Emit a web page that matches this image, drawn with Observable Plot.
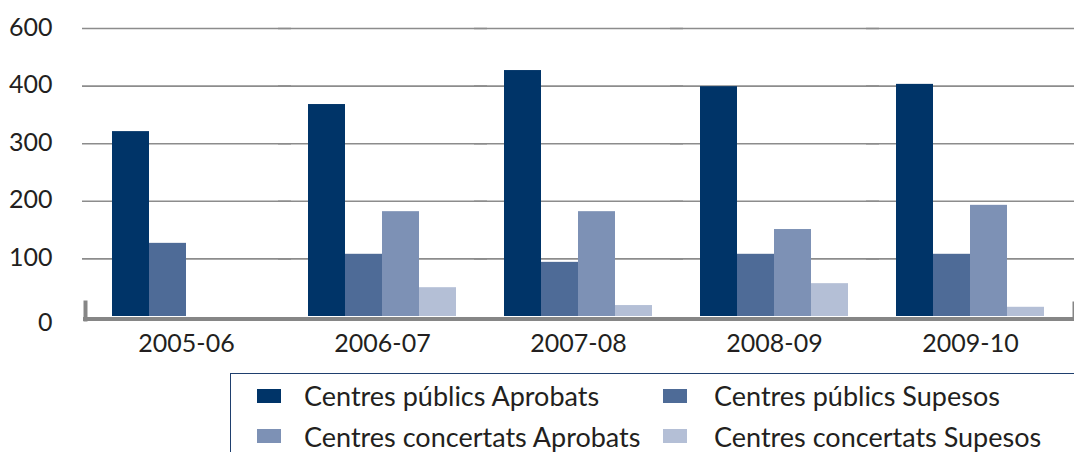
<!DOCTYPE html>
<html><head><meta charset="utf-8">
<script src="https://cdn.jsdelivr.net/npm/d3@7"></script>
<script src="https://cdn.jsdelivr.net/npm/@observablehq/plot@0.6"></script>
<style>
body{margin:0;background:#fff;font-family:Lato, sans-serif;}
#wrap{position:relative;width:1074px;height:452px;overflow:hidden;background:#fff;}
#legend{position:absolute;left:230px;top:373px;width:900px;height:100px;border:1.5px solid #1f3f6e;box-sizing:border-box;}
.item{position:absolute;font-size:27px;color:#231f20;white-space:nowrap;line-height:1;}
.sw{position:absolute;width:24px;height:14px;}
</style></head><body><div id="wrap"><div id="chart"></div><div id="legend"></div></div>
<script>
const years = ["2005-06","2006-07","2007-08","2008-09","2009-10"];
const seriesNames = ["Centres públics Aprobats","Centres públics Supesos","Centres concertats Aprobats","Centres concertats Supesos"];
const colors = ["#003468","#4e6b97","#7d91b5","#b4bfd6"];
const publicAprobats = [321,368,427,399,403];
const publicSupesos = [127,108,94,108,108];
const concertatsAprobats = [null,182,182,151,193];
const concertatsSupesos = [null,50,19,57,16];
const yTicks = [0,100,200,300,400,500];
const yTickLabels = ["0","100","200","300","400","600"];

const seriesValues = [publicAprobats, publicSupesos, concertatsAprobats, concertatsSupesos];
const data = [];
years.forEach((yr, i) => seriesNames.forEach((s, j) => {
  const v = seriesValues[j][i];
  if (v != null) data.push({year: yr, series: s, value: v});
}));
const label = d => yTickLabels[yTicks.indexOf(d)];

const chart = Plot.plot({
  width: 1074, height: 370,
  marginLeft: 83, marginRight: 1, marginTop: 28, marginBottom: 54,
  fx: {domain: years, paddingInner: 0.245, paddingOuter: 0.148, label: null, axis: null},
  x: {domain: seriesNames, padding: 0, axis: null},
  y: {domain: [0, 500], axis: null},
  color: {domain: seriesNames, range: colors},
  style: {fontFamily: "Lato, sans-serif", background: "#fff", overflow: "visible"},
  marks: [
    Plot.ruleY(yTicks.slice(1), {y: d => d, stroke: "#8c8c8c", strokeWidth: 1.6, strokeOpacity: 1, insetLeft: -30, insetRight: -31}),
    Plot.barY(data, {fx: "year", x: "series", y: "value", fill: "series"}),
    Plot.ruleY([0], {stroke: "#868686", strokeWidth: 4, dy: 2.5, strokeOpacity: 1, insetLeft: -29, insetRight: -31}),
    Plot.frame({facetAnchor: "left", anchor: "left", stroke: "#868686", strokeWidth: 4, insetLeft: -27, insetTop: 274, insetBottom: -3, strokeOpacity: 1}),
    Plot.frame({facetAnchor: "right", anchor: "right", stroke: "#868686", strokeWidth: 2, insetRight: -29, insetTop: 274, insetBottom: -3, strokeOpacity: 1}),
    Plot.text(yTicks, {facetAnchor: "left", filter: d => d !== 0, y: d => d, text: label, frameAnchor: "left", textAnchor: "end", dx: -60, dy: -1, fontSize: 25, fill: "#231f20"}),
    Plot.text(yTicks, {facetAnchor: "left", filter: d => d === 0, y: d => d, text: label, frameAnchor: "left", textAnchor: "end", dx: -60, dy: 6, fontSize: 25, fill: "#231f20"}),
    Plot.axisFx({anchor: "bottom", tickSize: 0, tickPadding: 18, fontSize: 25, label: null, fill: "#231f20"})
  ]
});
document.getElementById("chart").appendChild(chart);

const legend = document.getElementById("legend");
const pos = [[0,0],[1,0],[0,1],[1,1]];
const colX = [26, 432];
const textX = [73, 483];
const swTop = [14.5, 54.5];
const textTop = [7.5, 49];
seriesNames.forEach((s, i) => {
  const [c, r] = pos[i];
  const sw = document.createElement("div");
  sw.className = "sw";
  sw.style.left = colX[c] + "px";
  sw.style.top = swTop[r] + "px";
  sw.style.background = colors[i];
  legend.appendChild(sw);
  const t = document.createElement("div");
  t.className = "item";
  t.style.left = textX[c] + "px";
  t.style.top = textTop[r] + "px";
  t.textContent = s;
  legend.appendChild(t);
});
</script></body></html>
